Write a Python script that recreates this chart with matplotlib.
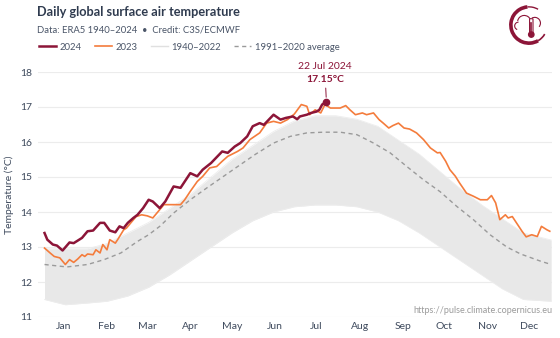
import numpy as np
import matplotlib
matplotlib.use("Agg")
import matplotlib.pyplot as plt
from matplotlib.patches import Arc, Circle, FancyBboxPatch

plt.rcParams['font.family'] = ['Lato', 'DejaVu Sans']

# ---- data (day of year, 0 = 1 Jan) ----
days_2024 = [0, 2, 6, 9, 13, 18, 21, 27, 31, 35, 40, 43, 47, 51, 54, 57, 60, 64, 67, 71,
             75, 78, 83, 87, 93, 98, 105, 110, 114, 120, 128, 132, 137, 141, 146, 150,
             155, 158, 165, 170, 174, 179, 182, 184, 189, 192, 196, 198, 200, 203]
temp_2024 = [13.40, 13.21, 13.07, 13.04, 12.90, 13.13, 13.11, 13.26, 13.45, 13.47, 13.69,
             13.69, 13.47, 13.42, 13.59, 13.54, 13.69, 13.83, 13.92, 14.11, 14.35, 14.30,
             14.11, 14.30, 14.73, 14.69, 15.11, 15.02, 15.21, 15.40, 15.73, 15.69, 15.87,
             15.97, 16.16, 16.45, 16.54, 16.49, 16.78, 16.64, 16.69, 16.73, 16.65, 16.73,
             16.78, 16.83, 16.87, 16.92, 17.07, 17.15]

days_2023 = [0, 4, 7, 11, 15, 18, 21, 24, 27, 29, 31, 35, 37, 40, 42, 45, 47, 51, 53, 57,
             59, 63, 66, 70, 74, 78, 82, 86, 92, 98, 101, 105, 110, 114, 119, 124, 128, 132,
             139, 143, 148, 155, 160, 165, 170, 175, 180, 185, 189, 191, 195, 199, 202, 206,
             213, 217, 220, 224, 229, 232, 237, 241, 244, 248, 251, 255, 259, 263, 268, 273,
             278, 283, 285, 289, 292, 296, 299, 304, 309, 314, 319, 322, 325, 328, 332, 334,
             337, 340, 344, 347, 351, 355, 358, 362, 364]
temp_2023 = [12.97, 12.83, 12.73, 12.69, 12.50, 12.64, 12.56, 12.66, 12.78, 12.73,
             12.80, 12.78, 12.92, 12.83, 13.07, 12.92, 13.21, 13.11, 13.23, 13.49,
             13.54, 13.73, 13.87, 13.92, 13.89, 13.83, 14.02, 14.21, 14.21, 14.21,
             14.35, 14.59, 14.87, 15.02, 15.26, 15.30, 15.45, 15.59, 15.73, 15.83,
             16.07, 16.26, 16.54, 16.59, 16.54, 16.64, 16.80, 17.07, 17.02, 16.78,
             16.92, 16.83, 17.07, 16.97, 16.97, 17.04, 16.92, 16.78, 16.83, 16.78,
             16.83, 16.64, 16.54, 16.40, 16.47, 16.54, 16.40, 16.37, 16.26, 16.07,
             15.83, 15.69, 15.70, 15.45, 15.21, 15.02, 14.83, 14.54, 14.45, 14.35,
             14.35, 14.47, 14.26, 13.78, 13.92, 13.83, 13.87, 13.69, 13.45, 13.29,
             13.35, 13.30, 13.59, 13.49, 13.45]

days_avg = [0, 16, 31, 43, 55, 67, 75, 83, 93, 105, 117, 129, 141, 152, 165, 177, 189,
            201, 213, 225, 237, 249, 261, 273, 285, 297, 309, 321, 333, 343, 357, 365]
temp_avg = [12.50, 12.43, 12.50, 12.64, 12.83, 13.16, 13.35, 13.59, 13.97, 14.35, 14.69,
            15.02, 15.35, 15.65, 15.97, 16.16, 16.26, 16.28, 16.28, 16.21, 15.97, 15.69,
            15.30, 14.92, 14.58, 14.16, 13.78, 13.35, 13.00, 12.80, 12.60, 12.50]

# envelope of the 1940-2022 lines
days_env = [0, 15, 31, 45, 60, 75, 90, 105, 120, 135, 150, 165, 180, 195, 210, 225,
            240, 255, 270, 285, 300, 315, 330, 345, 365]
env_low = [11.50, 11.35, 11.40, 11.45, 11.60, 11.85, 12.20, 12.60, 13.00, 13.40, 13.75,
           14.00, 14.15, 14.20, 14.20, 14.15, 14.00, 13.75, 13.40, 13.00, 12.60, 12.20,
           11.80, 11.50, 11.45]
env_high = [12.95, 12.95, 12.95, 13.10, 13.40, 13.70, 14.10, 14.50, 15.00, 15.50, 15.90,
            16.30, 16.60, 16.75, 16.75, 16.65, 16.45, 16.05, 15.65, 15.15, 14.65, 14.20,
            13.80, 13.40, 13.20]

month_labels = ['Jan', 'Feb', 'Mar', 'Apr', 'May', 'Jun', 'Jul', 'Aug', 'Sep', 'Oct', 'Nov', 'Dec']
month_mid = [14, 45, 74, 105, 135, 166, 196, 227, 258, 288, 319, 349]

c2024 = '#8c1538'
c2023 = '#f47c3c'
cgrey = '#e8e8e8'
ctext = '#3e4a5d'

fig = plt.figure(figsize=(5.6, 3.38), dpi=100)
ax = fig.add_axes([38 / 560, 21 / 338, 514 / 560, 245 / 338])

ax.fill_between(days_env, env_low, env_high, color=cgrey, lw=0)
ax.plot(days_env, env_low, color='#ededed', lw=0.6)
ax.plot(days_env, env_high, color='#ededed', lw=0.6)
ax.plot(days_avg, temp_avg, color='#9a9a9a', lw=1.0, dashes=(3, 2.5))
ax.plot(days_2023, temp_2023, color=c2023, lw=1.2)
ax.plot(days_2024, temp_2024, color=c2024, lw=1.8)
ax.plot([days_2024[-1]], [temp_2024[-1]], 'o', color=c2024, ms=4.5)

# annotation of the record
ax.annotate('', xy=(days_2024[-1], temp_2024[-1] + 0.05), xytext=(days_2024[-1] - 0.5, 17.62),
            arrowprops=dict(arrowstyle='-', color=c2024, lw=0.7))
ax.text(days_2024[-1] - 1, 17.78, '17.15°C', color=c2024, fontsize=7.5, fontweight='bold',
        ha='center', va='center')
ax.text(days_2024[-1] - 1, 18.15, '22 Jul 2024', color=c2024, fontsize=7.5,
        ha='center', va='center')

ax.set_xlim(-4.7, 365.6)
ax.set_ylim(11, 18)
ax.set_yticks(range(11, 19))
ax.set_xticks(month_mid)
ax.set_xticklabels(month_labels)
ax.tick_params(length=0, colors=ctext, labelsize=7.5)
ax.tick_params(axis='y', pad=4)
ax.grid(axis='y', color='#ececec', lw=0.8)
ax.set_axisbelow(True)
for s in ax.spines.values():
    s.set_visible(False)
ax.set_ylabel('Temperature (°C)', color=ctext, fontsize=7.5)
ax.yaxis.set_label_coords(-24 / 514, 0.5)

ax.text(1.0, 0.025, 'https://pulse.climate.copernicus.eu', transform=ax.transAxes,
        ha='right', va='center', fontsize=6.5, color='#9b9b9b',
        bbox=dict(facecolor='white', edgecolor='none', pad=0.8))

# titles
fig.text(37 / 560, 1 - 12 / 338, 'Daily global surface air temperature', fontsize=9.2,
         fontweight='bold', color='#2f3b4f', va='center')
fig.text(37 / 560, 1 - 30 / 338, 'Data: ERA5 1940–2024  •  Credit: C3S/ECMWF', fontsize=6.8,
         color='#4a5568', va='center')

# legend
h1, = ax.plot([], [], color=c2024, lw=1.8, label='2024')
h2, = ax.plot([], [], color=c2023, lw=1.2, label='2023')
h3, = ax.plot([], [], color='#e0e0e0', lw=1.0, label='1940–2022')
h4, = ax.plot([], [], color='#9a9a9a', lw=1.0, dashes=(3, 2.5), label='1991–2020 average')
leg = fig.legend(handles=[h1, h2, h3, h4], loc='center left', bbox_to_anchor=(35 / 560, 1 - 47 / 338),
                 ncol=4, frameon=False, fontsize=6.8, handlelength=1.8, handletextpad=0.4,
                 columnspacing=1.4, borderaxespad=0)
for t in leg.get_texts():
    t.set_color('#4a5568')

# logo
lax = fig.add_axes([508 / 560, 1 - 46 / 338, 42 / 560, 42 / 338])
lax.set_xlim(-1.1, 1.1)
lax.set_ylim(-1.1, 1.1)
lax.set_aspect('equal')
lax.axis('off')
lax.add_patch(Arc((0, 0), 1.9, 1.9, theta1=95, theta2=300, color=c2024, lw=2.6))
lax.add_patch(Arc((0, 0), 1.9, 1.9, theta1=300, theta2=330, color=c2024, lw=1.2))
lax.add_patch(Arc((0, 0), 1.9, 1.9, theta1=60, theta2=95, color=c2024, lw=1.0))
lax.add_patch(Arc((-0.25, 0.15), 0.7, 0.7, theta1=20, theta2=170, color=c2024, lw=0.8))
lax.add_patch(Arc((0.3, 0.1), 0.6, 0.6, theta1=-40, theta2=120, color=c2024, lw=0.8))
lax.add_patch(Arc((-0.55, -0.05), 0.4, 0.4, theta1=90, theta2=250, color=c2024, lw=0.8))
lax.add_patch(FancyBboxPatch((0.06, -0.45), 0.12, 0.75, boxstyle='round,pad=0.03',
                             fc='white', ec=c2024, lw=0.8))
lax.add_patch(Circle((0.12, -0.5), 0.14, fc=c2024, ec=c2024))
lax.plot([0.12, 0.12], [-0.45, 0.1], color=c2024, lw=1.2)

fig.savefig('out.png', dpi=100)
